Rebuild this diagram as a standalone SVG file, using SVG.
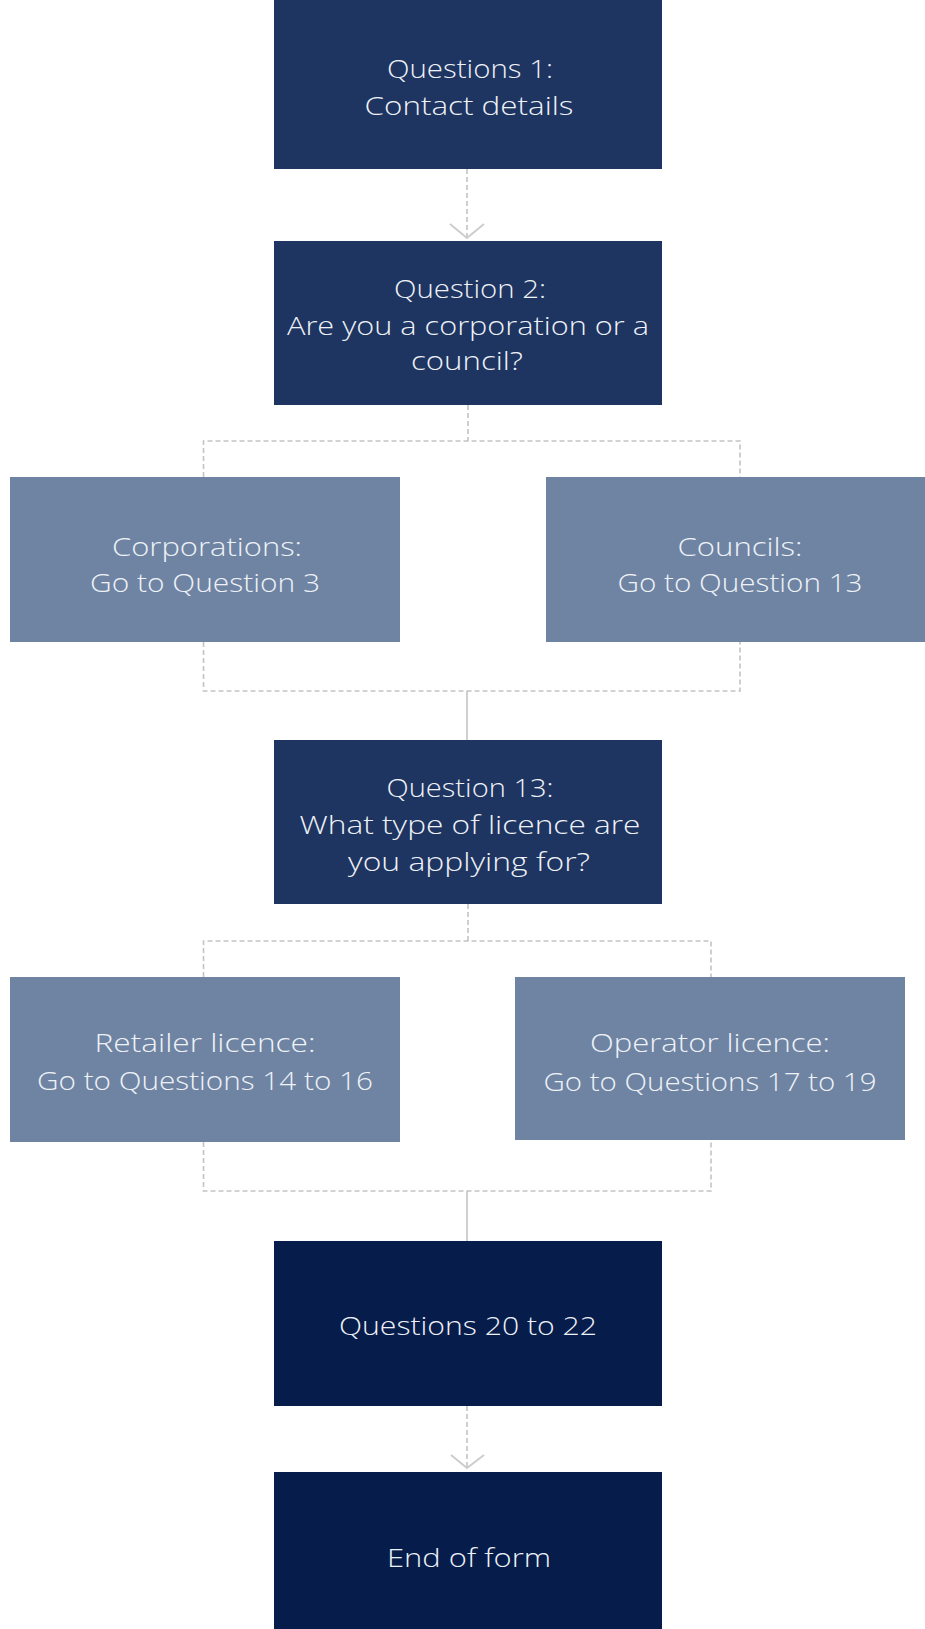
<svg xmlns="http://www.w3.org/2000/svg" width="925" height="1629" viewBox="0 0 925 1629">
<style>
.dark{fill:#1e3461}
.darker{fill:#061c4b}
.light{fill:#6f84a3}
.t{font-family:"Open Sans","Lato","Liberation Sans",sans-serif;font-size:26px;font-weight:300;fill:#eef2f7;text-anchor:middle}
.dash{fill:none;stroke:#c4c4c4;stroke-width:1.6;stroke-dasharray:5 3}
.solid{fill:none;stroke:#c4c4c4;stroke-width:1.6}
.head{fill:none;stroke:#cdcdcd;stroke-width:2}
</style>
<rect width="925" height="1629" fill="#ffffff"/>
<g id="connectors">
<line class="dash" x1="467" y1="169" x2="467" y2="238"/>
<polyline class="head" points="450,224 467,238 484,224"/>
<line class="dash" x1="468" y1="405" x2="468" y2="441"/>
<polyline class="dash" points="203.5,477 203.5,441 740,441 740,477"/>
<polyline class="dash" points="203.5,642 203.5,691 740,691 740,642"/>
<line class="solid" x1="467" y1="691" x2="467" y2="740"/>
<line class="dash" x1="468" y1="904" x2="468" y2="941"/>
<polyline class="dash" points="203.5,977 203.5,941 711,941 711,977"/>
<polyline class="dash" points="203.5,1142 203.5,1191 711,1191 711,1140"/>
<line class="solid" x1="467" y1="1191" x2="467" y2="1241"/>
<line class="dash" x1="467" y1="1406" x2="467" y2="1468"/>
<polyline class="head" points="451,1455 467,1468 484,1455"/>
</g>
<g id="node-q1">
<rect class="dark" x="274" y="0" width="388" height="169"/>
<text class="t" x="470" y="78" textLength="166" lengthAdjust="spacingAndGlyphs">Questions 1:</text>
<text class="t" x="469" y="115" textLength="209" lengthAdjust="spacingAndGlyphs">Contact details</text>
</g>
<g id="node-q2">
<rect class="dark" x="274" y="241" width="388" height="164"/>
<text class="t" x="470" y="298" textLength="152" lengthAdjust="spacingAndGlyphs">Question 2:</text>
<text class="t" x="468" y="335" textLength="362" lengthAdjust="spacingAndGlyphs">Are you a corporation or a</text>
<text class="t" x="467" y="370" textLength="112" lengthAdjust="spacingAndGlyphs">council?</text>
</g>
<g id="node-corporations">
<rect class="light" x="10" y="477" width="390" height="165"/>
<text class="t" x="207" y="556" textLength="190" lengthAdjust="spacingAndGlyphs">Corporations:</text>
<text class="t" x="205" y="592" textLength="230" lengthAdjust="spacingAndGlyphs">Go to Question 3</text>
</g>
<g id="node-councils">
<rect class="light" x="546" y="477" width="379" height="165"/>
<text class="t" x="740" y="556" textLength="125" lengthAdjust="spacingAndGlyphs">Councils:</text>
<text class="t" x="740" y="592" textLength="245" lengthAdjust="spacingAndGlyphs">Go to Question 13</text>
</g>
<g id="node-q13">
<rect class="dark" x="274" y="740" width="388" height="164"/>
<text class="t" x="470" y="797" textLength="167" lengthAdjust="spacingAndGlyphs">Question 13:</text>
<text class="t" x="470" y="834" textLength="341" lengthAdjust="spacingAndGlyphs">What type of licence are</text>
<text class="t" x="469" y="871" textLength="242" lengthAdjust="spacingAndGlyphs">you applying for?</text>
</g>
<g id="node-retailer">
<rect class="light" x="10" y="977" width="390" height="165"/>
<text class="t" x="205" y="1052" textLength="221" lengthAdjust="spacingAndGlyphs">Retailer licence:</text>
<text class="t" x="205" y="1090" textLength="336" lengthAdjust="spacingAndGlyphs">Go to Questions 14 to 16</text>
</g>
<g id="node-operator">
<rect class="light" x="515" y="977" width="390" height="163"/>
<text class="t" x="710" y="1052" textLength="240" lengthAdjust="spacingAndGlyphs">Operator licence:</text>
<text class="t" x="710" y="1091" textLength="333" lengthAdjust="spacingAndGlyphs">Go to Questions 17 to 19</text>
</g>
<g id="node-q20">
<rect class="darker" x="274" y="1241" width="388" height="165"/>
<text class="t" x="468" y="1335" textLength="258" lengthAdjust="spacingAndGlyphs">Questions 20 to 22</text>
</g>
<g id="node-end">
<rect class="darker" x="274" y="1472" width="388" height="157"/>
<text class="t" x="469" y="1567" textLength="164" lengthAdjust="spacingAndGlyphs">End of form</text>
</g>
</svg>
